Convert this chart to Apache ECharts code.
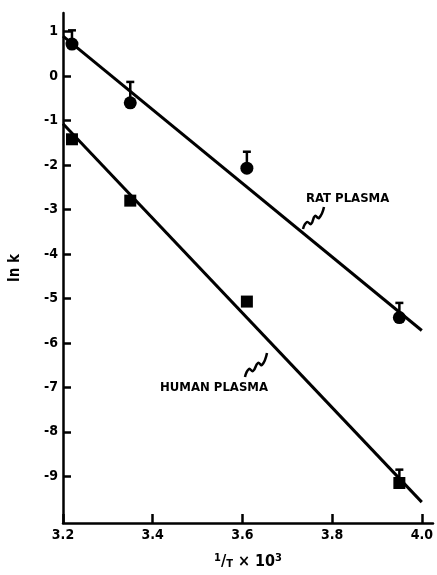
<!DOCTYPE html>
<html>
<head>
<meta charset="utf-8">
<script src="https://cdn.jsdelivr.net/npm/echarts@6/dist/echarts.min.js"></script>
<style>
html,body{margin:0;padding:0;background:#fff;}
#chart{width:437px;height:575px;}
</style>
</head>
<body>
<div id="chart"></div>
<script>
// ---- data ----
const invT = [3.22, 3.35, 3.61, 3.95];
const ratLnK = [0.72, -0.6, -2.07, -5.43];
const ratErrTop = [1.03, -0.13, -1.7, -5.1];
const humanLnK = [-1.42, -2.8, -5.07, -9.15];
const humanErrTop = [null, null, null, -8.85];
const ratFitX = [3.2, 4.0];
const ratFitY = [0.9, -5.72];
const humanFitX = [3.2, 4.0];
const humanFitY = [-1.07, -9.58];
const xTicks = [3.2, 3.4, 3.6, 3.8, 4.0];
const yTicks = [1, 0, -1, -2, -3, -4, -5, -6, -7, -8, -9];

const FONT = '"Liberation Sans Narrow", "DejaVu Sans Condensed", sans-serif';

const ratPts = invT.map((x, i) => [x, ratLnK[i]]);
const humanPts = invT.map((x, i) => [x, humanLnK[i]]);
const errData = [];
invT.forEach((x, i) => {
  if (ratErrTop[i] != null) errData.push([x, ratLnK[i], ratErrTop[i]]);
  if (humanErrTop[i] != null) errData.push([x, humanLnK[i], humanErrTop[i]]);
});

const chart = echarts.init(document.getElementById('chart'));
chart.setOption({
  animation: false,
  backgroundColor: '#fff',
  grid: { left: 58, right: 4, top: 13, bottom: 49 },
  xAxis: {
    type: 'value', min: 3.2, max: 4.025,
    axisLine: { onZero: false, lineStyle: { color: '#000', width: 2.5 } },
    axisTick: { inside: true, length: 9, lineStyle: { color: '#000', width: 2.5 }, customValues: xTicks },
    axisLabel: { customValues: xTicks, formatter: v => v.toFixed(1), color: '#000', fontFamily: FONT, fontWeight: 'bold', fontSize: 14, margin: 5 },
    splitLine: { show: false },
    name: '{s|1}/{b|T} × 10{s|3}',
    nameLocation: 'middle', nameGap: 30,
    nameTextStyle: {
      color: '#000', fontFamily: FONT, fontWeight: 'bold', fontSize: 16,
      rich: {
        s: { fontSize: 11, verticalAlign: 'top', fontFamily: FONT, fontWeight: 'bold', color: '#000', padding: [0,0,6,0] },
        b: { fontSize: 11, verticalAlign: 'bottom', fontFamily: FONT, fontWeight: 'bold', color: '#000', padding: [6,0,0,0] }
      }
    }
  },
  yAxis: {
    type: 'value', min: -10.05, max: 1.42,
    axisLine: { onZero: false, lineStyle: { color: '#000', width: 2.5 } },
    axisTick: { inside: true, length: 8, lineStyle: { color: '#000', width: 2.5 }, customValues: yTicks },
    axisLabel: { customValues: yTicks, formatter: v => String(v), color: '#000', fontFamily: FONT, fontWeight: 'bold', fontSize: 14, margin: 5 },
    splitLine: { show: false },
    name: 'ln k', nameLocation: 'middle', nameGap: 40, nameRotate: 90,
    nameTextStyle: { color: '#000', fontFamily: FONT, fontWeight: 'bold', fontSize: 15 }
  },
  series: [
    {
      type: 'line', name: 'rat fit', data: ratFitX.map((x, i) => [x, ratFitY[i]]),
      symbol: 'none', lineStyle: { color: '#000', width: 3 }, z: 2
    },
    {
      type: 'line', name: 'human fit', data: humanFitX.map((x, i) => [x, humanFitY[i]]),
      symbol: 'none', lineStyle: { color: '#000', width: 3 }, z: 2
    },
    {
      type: 'custom', name: 'errors', data: errData, z: 3,
      renderItem: (params, api) => {
        const p0 = api.coord([api.value(0), api.value(1)]);
        const p1 = api.coord([api.value(0), api.value(2)]);
        return { type: 'group', children: [
          { type: 'line', shape: { x1: p0[0], y1: p0[1], x2: p1[0], y2: p1[1] }, style: { stroke: '#000', lineWidth: 2.5 } },
          { type: 'line', shape: { x1: p1[0] - 4, y1: p1[1], x2: p1[0] + 4, y2: p1[1] }, style: { stroke: '#000', lineWidth: 2.5 } }
        ]};
      }
    },
    {
      type: 'scatter', name: 'RAT PLASMA', data: ratPts, symbol: 'circle', symbolSize: 13,
      itemStyle: { color: '#000', opacity: 1 }, z: 4
    },
    {
      type: 'scatter', name: 'HUMAN PLASMA', data: humanPts, symbol: 'rect', symbolSize: 12,
      itemStyle: { color: '#000', opacity: 1 }, z: 4
    }
  ],
  graphic: [
    { type: 'text', x: 306, y: 192, style: { text: 'RAT PLASMA', fill: '#000', font: 'bold 13px ' + FONT } },
    { type: 'text', x: 160, y: 381, style: { text: 'HUMAN PLASMA', fill: '#000', font: 'bold 13px ' + FONT } },
    { type: 'polyline', shape: { points: [[303,229],[307,222],[311,224],[315,216],[319,218],[324,207]], smooth: 0.5 }, style: { stroke: '#000', lineWidth: 2.5, fill: null } },
    { type: 'polyline', shape: { points: [[245,377],[249,369],[253,371],[258,363],[262,365],[267,353]], smooth: 0.5 }, style: { stroke: '#000', lineWidth: 2.5, fill: null } }
  ]
});
</script>
</body>
</html>
